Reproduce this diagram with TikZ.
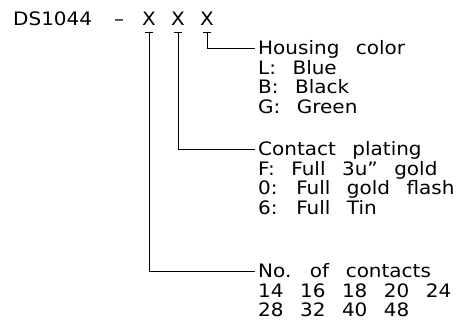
\documentclass[tikz,border=0pt]{standalone}
\usepackage{fontspec}
\setmainfont{DejaVu Sans}[FakeStretch=1.08, WordSpace=2.6]
\begin{document}
\begin{tikzpicture}[x=1pt,y=1pt,
  txt/.style={anchor=base west, inner xsep=3pt, inner ysep=0pt, font=\fontsize{18.5}{20}\selectfont},
  xch/.style={anchor=base, inner sep=0pt, font=\fontsize{18.5}{20}\selectfont},
  conn/.style={line width=0.9pt}]
\useasboundingbox (0,0) rectangle (461,-334);
% part number
\node[txt, inner xsep=0pt] (pn) at (13,-26) {DS1044};
\node[txt, inner xsep=0pt] (dash) at (114,-26) {–};
\node[xch] (x1) at (149,-26) {X};
\node[xch] (x2) at (178,-26) {X};
\node[xch] (x3) at (207,-26) {X};
% housing color
\node[txt] (hc) at (255,-55) {Housing color};
\node[txt] (hcL) at (255,-74.5) {L: Blue};
\node[txt] (hcB) at (255,-94) {B: Black};
\node[txt] (hcG) at (255,-113.5) {G: Green};
% contact plating
\node[txt] (cp) at (255,-156) {Contact plating};
\node[txt] (cpF) at (255,-175.5) {F: Full 3u” gold};
\node[txt] (cp0) at (255,-195) {0: Full gold flash};
\node[txt] (cp6) at (255,-214.5) {6: Full Tin};
% number of contacts
\node[txt] (nc) at (255,-277.5) {No. of contacts};
\node[txt] (nc1) at (255,-297) {14 16 18 20 24};
\node[txt] (nc2) at (255,-316.5) {28 32 40 48};
% ticks
\foreach \n in {x1,x2,x3}{
  \draw[conn] ([shift={(-4,-6)}]\n.base) -- ++(8,0);
}
% connectors
\draw[conn] ([yshift=-6]x3.base) |- ([yshift=6.5]hc.base west);
\draw[conn] ([yshift=-6]x2.base) |- ([yshift=6.5]cp.base west);
\draw[conn] ([yshift=-6]x1.base) |- ([yshift=6.5]nc.base west);
\end{tikzpicture}
\end{document}
